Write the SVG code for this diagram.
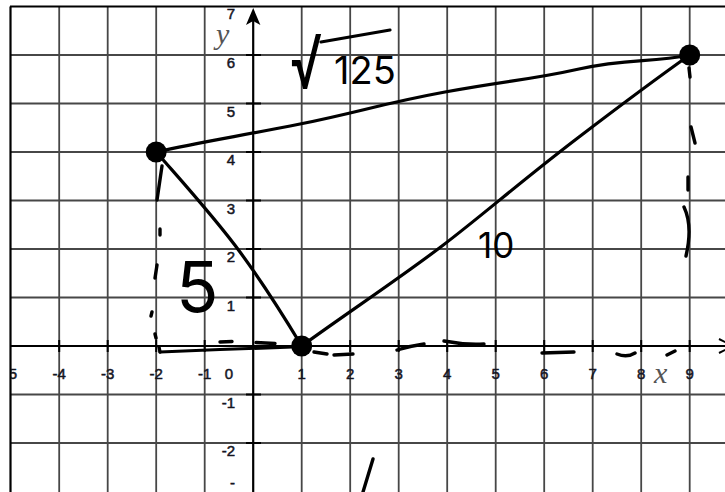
<svg xmlns="http://www.w3.org/2000/svg" width="725" height="492" viewBox="0 0 725 492">
<style>
.grid{stroke:#474747;stroke-width:1.8;fill:none}
.axis{stroke:#000;stroke-width:2.2;fill:none}
.tick{stroke:#000;stroke-width:2;fill:none}
.num{font-family:"Liberation Sans",Arial,sans-serif;font-size:15px;fill:#15151f;stroke:#15151f;stroke-width:0.5}
.xl{text-anchor:middle}
.yl{text-anchor:end}
.var{font-family:"Liberation Serif","Times New Roman",serif;font-style:italic;font-size:30px;fill:#555}
.ink{stroke:#000;stroke-width:3.2;fill:none;stroke-linecap:round;stroke-linejoin:round}
.dash{stroke:#000;stroke-width:3.4;fill:none;stroke-linecap:round}
.hand{font-family:Inter,"DejaVu Sans",sans-serif;font-weight:400;fill:#000}
.dot{fill:#000}
</style>
<defs>
<clipPath id="plot"><rect x="11" y="0" width="714" height="492"/></clipPath>
</defs>
<rect width="725" height="492" fill="#fff"/>
<g id="grid">
<path class="grid" d="M59.2,6.5V492M107.7,6.5V492M156.2,6.5V492M204.7,6.5V492M301.7,6.5V492M350.2,6.5V492M398.7,6.5V492M447.2,6.5V492M495.7,6.5V492M544.2,6.5V492M592.7,6.5V492M641.2,6.5V492M689.7,6.5V492"/>
<path class="grid" d="M11,55H725M11,103.5H725M11,152H725M11,200.5H725M11,249H725M11,297.5H725M11,394.5H725M11,443H725"/>
<path class="axis" d="M10,6.5H725"/>
<path class="axis" d="M10.5,6.5V492" stroke-width="2.6"/>
</g>
<g id="axes">
<path class="axis" d="M11,346H725"/>
<path class="axis" d="M253.2,492V14"/>
<path d="M253.2,8L246,25L253.2,21L260.4,25Z" fill="#000"/>
<path d="M719,339L733,346L719,353" fill="none" stroke="#000" stroke-width="2"/>
<path class="tick" d="M59.2,340V352M107.7,340V352M156.2,340V352M204.7,340V352M301.7,340V352M350.2,340V352M398.7,340V352M447.2,340V352M495.7,340V352M544.2,340V352M592.7,340V352M641.2,340V352M689.7,340V352"/>
<path class="tick" d="M246,55H261M246,103.5H261M246,152H261M246,200.5H261M246,249H261M246,297.5H261M246,394.5H261M246,443H261"/>
</g>
<g id="labels">
<g clip-path="url(#plot)"><text class="num xl" x="10.5" y="379">-5</text></g>
<text class="num xl" x="59.2" y="379">-4</text>
<text class="num xl" x="107.7" y="379">-3</text>
<text class="num xl" x="156.2" y="379">-2</text>
<text class="num xl" x="204.7" y="379">-1</text>
<text class="num xl" x="229" y="379">0</text>
<text class="num xl" x="301.7" y="379">1</text>
<text class="num xl" x="350.2" y="379">2</text>
<text class="num xl" x="398.7" y="379">3</text>
<text class="num xl" x="447.2" y="379">4</text>
<text class="num xl" x="495.7" y="379">5</text>
<text class="num xl" x="544.2" y="379">6</text>
<text class="num xl" x="592.7" y="379">7</text>
<text class="num xl" x="641.2" y="379">8</text>
<text class="num xl" x="689.7" y="379">9</text>
<text class="num yl" x="235" y="18.5">7</text>
<text class="num yl" x="235" y="68">6</text>
<text class="num yl" x="235" y="116.5">5</text>
<text class="num yl" x="235" y="165">4</text>
<text class="num yl" x="235" y="213.5">3</text>
<text class="num yl" x="235" y="262">2</text>
<text class="num yl" x="235" y="310.5">1</text>
<text class="num yl" x="235" y="407.5">-1</text>
<text class="num yl" x="235" y="456">-2</text>
<text class="num yl" x="235" y="488">-</text>
<text class="var" x="216" y="44">y</text>
<text class="var" x="654" y="383">x</text>
</g>
<g id="connectors">
<path class="ink" d="M156,152C200,142 240,136 300,124S380,104 445,92S530,80 579,69S650,63 689.7,55"/>
<path class="ink" d="M158,154C185,185 215,218 240,252S280,310 301.7,346"/>
<path class="ink" d="M301.7,346C340,318 400,278 442,246S520,182 579,137S650,83 689.7,55"/>
<path class="ink" d="M160,352L220,349.5L293,347"/>
</g>
<g id="dashes">
<path class="dash" d="M220,342L232,341.5M256,342.5L275,343.5M314,352L327,354M334,355L353,354M397,350Q410,346 424,344M444,341Q464,345 484,344M542,353L574,352M617,354Q627,358 635,353M667,355L675,351"/>
<path class="dash" d="M162,166L157,200M160,229L160,235M157,265L155,278M152,312L151,316M155,334L156,338M159,347L160,352"/>
<path class="dash" d="M689,68L690,77M691,127L695,143M688,177L688,190M684,207Q693,226 686,256"/>
<path class="dash" d="M373,459L363,492"/>
</g>
<g id="node-a"><circle class="dot" cx="156.2" cy="152" r="10.5"/></g>
<g id="node-b"><circle class="dot" cx="301.7" cy="346" r="10.5"/></g>
<g id="node-c"><circle class="dot" cx="689.7" cy="55" r="10.5"/></g>
<g id="annotations">
<text class="hand" transform="translate(290,89) scale(1,1.45)" font-size="52">√</text>
<path class="ink" d="M321,42L390,30"/>
<text class="hand" x="334" y="84" font-size="38">125</text>
<text class="hand" x="176" y="312" font-size="70" font-weight="300">5</text>
<text class="hand" x="478" y="258" font-size="35">10</text>
</g>
</svg>
